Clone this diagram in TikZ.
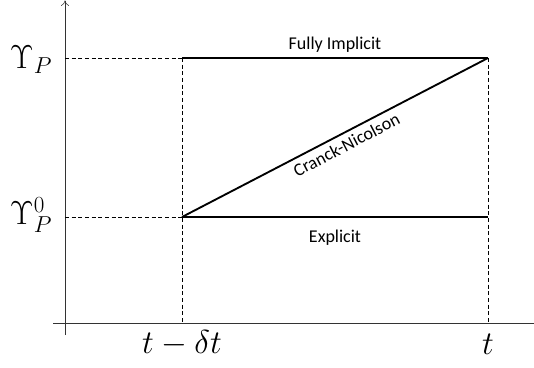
\documentclass[tikz,border=0pt]{standalone}
\usepackage{fontspec}
\setsansfont{Carlito}
\usetikzlibrary{arrows.meta, positioning}

\begin{document}
\begin{tikzpicture}[x=0.75pt, y=-0.75pt, >={To[length=4pt, width=6pt]},
    method/.style={line width=1.4pt},
    guide/.style={thin, dash pattern=on 3pt off 2pt},
    axis/.style={thin, black!80},
    lbl/.style={font=\sffamily\fontsize{13.5}{15}\selectfont},
    big/.style={font=\fontsize{27}{30}\selectfont}]
    \useasboundingbox (0,0) rectangle (534,367);

    % Trục toạ độ
    \coordinate (ytop) at (65,0.5);
    \coordinate (ybot) at (65,335);
    \coordinate (xl) at (53,323);
    \coordinate (xr) at (534,323);
    \draw[axis, ->] (ybot) -- (ytop);
    \draw[axis] (xl) -- (xr);

    % Các điểm góc
    \coordinate (old0) at (182,217);
    \coordinate (new0) at (488,217);
    \coordinate (old1) at (182,58);
    \coordinate (new1) at (488,58);
    \coordinate (y0) at (65,217);
    \coordinate (y1) at (65,58);
    \coordinate (xold) at (182,323);
    \coordinate (xnew) at (488,323);

    % Đường gióng nét đứt
    \draw[guide] (y1) -- (old1);
    \draw[guide] (y0) -- (old0);
    \draw[guide] (old1) -- (xold);
    \draw[guide] (new1) -- (xnew);

    % Ba lược đồ
    \draw[method] (old1) -- node[above=0pt, lbl] (fi) {Fully Implicit} (new1);
    \draw[method] (old0) -- node[below=6pt, lbl] (ex) {Explicit} (new0);
    \draw[method] (old0) -- node[pos=0.52, below=0pt, sloped, lbl] (cn) {Cranck-Nicolson} (new1);

    % Nhãn trục
    \node[big] (up) at (31,60) {$\Upsilon_P$};
    \node[big] (up0) at (31,215) {$\Upsilon_P^0$};
    \node[big, below=2pt of xold] (told) {$t-\delta t$};
    \node[big, below=5pt of xnew] (tnew) {$t$};
\end{tikzpicture}
\end{document}
